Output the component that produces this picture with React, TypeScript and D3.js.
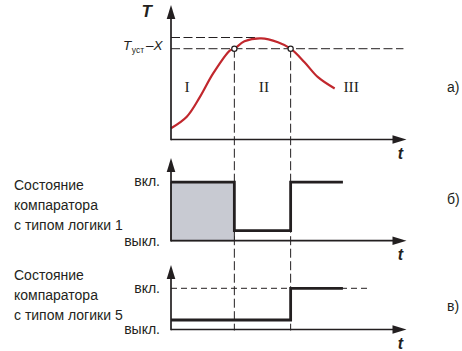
import React from "react";
import * as d3 from "d3";

// temperature curve (time units 0..100, T units 0..120)
const tempTimes = [0, 6.7, 12.3, 17.9, 25.1, 26.9, 31.2, 38.3, 45.4, 50.8, 56.7, 62.4, 69.5];
const tempValues = [10, 20.3, 38, 59, 79.6, 81, 87.6, 90.2, 86.7, 81, 68.9, 55.6, 45.5];

const setpointLevel = 81; // Tуст - X
const maxLevel = 91;
const crossTimes = [26.9, 50.8];
const zoneLabels = ["I", "II", "III"];
const zoneTimes = [6.8, 39.5, 76.5];

// comparator states (1 = вкл., 0 = выкл.)
const logic1Times = [0, 26.9, 50.8, 73];
const logic1States = [1, 0, 1, 1];
const logic5Times = [0, 50.8, 73];
const logic5States = [0, 1, 1];

const sideLabels = ["Состояние", "компаратора"];
const stateLabels = ["вкл.", "выкл."];
const panelLetters = ["а)", "б)", "в)"];

const INK = "#231f20";
const RED = "#c1272d";
const GRAY = "#c8cad2";
const FONT = "'Liberation Sans Narrow', 'Liberation Sans', Arial, sans-serif";
const SERIF = "'Liberation Serif', 'Times New Roman', serif";

const x = d3.scaleLinear().domain([0, 100]).range([171, 406.5]);
const yT = d3.scaleLinear().domain([0, 120]).range([139.5, 5]);
const yB = d3.scaleLinear().domain([0, 1]).range([230.7, 182.2]);
const yC = d3.scaleLinear().domain([0, 1]).range([320, 288.3]);

const axisB = 240.7;
const axisC = 329.5;

const arrowUp = (cx: number, tip: number) =>
  `M${cx},${tip} L${cx - 4.3},${tip + 14} L${cx + 4.3},${tip + 14} Z`;
const arrowRight = (tip: number, cy: number) =>
  `M${tip},${cy} L${tip - 14},${cy - 4.3} L${tip - 14},${cy + 4.3} Z`;

const Axes = ({ base, top }: { base: number; top: number }) => (
  <g>
    <line x1={x(0)} x2={x(0)} y1={base + 0.8} y2={top + 10} stroke={INK} strokeWidth={1.7} />
    <line x1={x(0)} x2={x(100) - 10} y1={base} y2={base} stroke={INK} strokeWidth={1.7} />
    <path d={arrowUp(x(0), top)} fill={INK} />
    <path d={arrowRight(x(100), base)} fill={INK} />
    <text x={x(100) - 6} y={base + 19} fontFamily={FONT} fontSize={16} fontWeight="bold" fontStyle="italic" textAnchor="middle" fill={INK}>
      t
    </text>
  </g>
);

const App = () => {
  const tempData = tempTimes.map((t, i) => [t, tempValues[i]] as [number, number]);
  const tempLine = d3
    .line<[number, number]>()
    .x((d) => x(d[0]))
    .y((d) => yT(d[1]))
    .curve(d3.curveCatmullRom.alpha(0.5));

  const stepLine = (ys: d3.ScaleLinear<number, number>) =>
    d3
      .line<[number, number]>()
      .x((d) => x(d[0]))
      .y((d) => ys(d[1]))
      .curve(d3.curveStepAfter);

  const logic1 = logic1Times.map((t, i) => [t, logic1States[i]] as [number, number]);
  const logic5 = logic5Times.map((t, i) => [t, logic5States[i]] as [number, number]);

  const sideText = (baseY: number, n: string) => (
    <text fontFamily={FONT} fontSize={14} fill={INK}>
      <tspan x={14} y={baseY}>{sideLabels[0]}</tspan>
      <tspan x={14} y={baseY + 20.2}>{sideLabels[1]}</tspan>
      <tspan x={14} y={baseY + 40.4}>{`с типом логики  ${n}`}</tspan>
    </text>
  );

  return (
    <svg width={462} height={351} style={{ position: "absolute", left: 0, top: 0, background: "#fff" }}>
      <rect width={462} height={351} fill="#fff" />

      {/* panel а: temperature */}
      <line x1={x(0)} x2={x(36)} y1={yT(maxLevel)} y2={yT(maxLevel)} stroke={INK} strokeWidth={1} strokeDasharray="9,3.5" />
      <line x1={x(0)} x2={x(98.7)} y1={yT(setpointLevel)} y2={yT(setpointLevel)} stroke={INK} strokeWidth={1} strokeDasharray="9,3.5" />
      {crossTimes.map((t) => (
        <line key={t} x1={x(t)} x2={x(t)} y1={yT(setpointLevel)} y2={axisC + 1} stroke={INK} strokeWidth={1} strokeDasharray="9,3.5" />
      ))}
      <path d={tempLine(tempData) || ""} fill="none" stroke={RED} strokeWidth={2.2} />
      {crossTimes.map((t) => (
        <circle key={t} cx={x(t)} cy={yT(setpointLevel)} r={2.6} fill="#fff" stroke={INK} strokeWidth={1.2} />
      ))}
      <Axes base={yT(0)} top={5} />
      <text x={152} y={17} fontFamily={FONT} fontSize={17} fontWeight="bold" fontStyle="italic" textAnchor="end" fill={INK}>
        T
      </text>
      <text x={123} y={50} fontFamily={FONT} fontSize={13.5} fontStyle="italic" fill={INK}>
        T
        <tspan fontSize={8.5} fontStyle="normal" dx={0.5} dy={3}>уст</tspan>
        <tspan dx={2} dy={-3}>–X</tspan>
      </text>
      {zoneLabels.map((lab, i) => (
        <text key={lab} x={x(zoneTimes[i])} y={91.7} fontFamily={SERIF} fontSize={15.5} textAnchor="middle" fill={INK}>
          {lab}
        </text>
      ))}

      {/* panel б: logic 1 */}
      <rect x={x(0)} y={yB(1)} width={x(crossTimes[0]) - x(0)} height={axisB - yB(1)} fill={GRAY} stroke={INK} strokeWidth={1} />
      <Axes base={axisB} top={158} />
      <path d={stepLine(yB)(logic1) || ""} fill="none" stroke={INK} strokeWidth={2.8} />
      {sideText(190, "1")}
      <text x={160} y={186} fontFamily={FONT} fontSize={14} textAnchor="end" fill={INK}>{stateLabels[0]}</text>
      <text x={160} y={246} fontFamily={FONT} fontSize={14} textAnchor="end" fill={INK}>{stateLabels[1]}</text>

      {/* panel в: logic 5 */}
      <line x1={x(0)} x2={x(84.3)} y1={yC(1)} y2={yC(1)} stroke={INK} strokeWidth={1} strokeDasharray="6,4" />
      <Axes base={axisC} top={265} />
      <path d={stepLine(yC)(logic5) || ""} fill="none" stroke={INK} strokeWidth={2.8} />
      {sideText(280, "5")}
      <text x={160} y={293} fontFamily={FONT} fontSize={14} textAnchor="end" fill={INK}>{stateLabels[0]}</text>
      <text x={160} y={334} fontFamily={FONT} fontSize={14} textAnchor="end" fill={INK}>{stateLabels[1]}</text>

      {[92, 204, 311].map((yy, i) => (
        <text key={i} x={447} y={yy} fontFamily={FONT} fontSize={14} fill={INK}>
          {panelLetters[i]}
        </text>
      ))}
    </svg>
  );
};

export default App;
